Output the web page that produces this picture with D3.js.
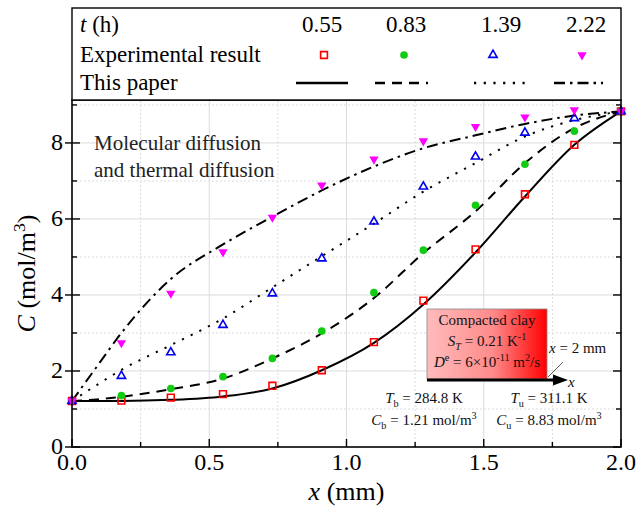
<!DOCTYPE html>
<html>
<head>
<meta charset="utf-8">
<script src="https://cdn.jsdelivr.net/npm/d3@7"></script>
<style>
  body { margin: 0; background: #fff; }
  svg { display: block; }
</style>
</head>
<body>
<div id="chart"></div>
<script>
// experimental sample positions (mm) and measured concentrations (mol/m3)
const xExp = [0, 0.18, 0.36, 0.55, 0.73, 0.91, 1.1, 1.28, 1.47, 1.65, 1.83, 2.0];
const exp055 = [1.21, 1.22, 1.30, 1.39, 1.61, 2.02, 2.76, 3.85, 5.20, 6.65, 7.95, 8.83];
const exp083 = [1.21, 1.35, 1.54, 1.85, 2.33, 3.05, 4.06, 5.18, 6.36, 7.44, 8.31, 8.83];
const exp139 = [1.21, 1.87, 2.49, 3.21, 4.04, 4.96, 5.93, 6.85, 7.64, 8.27, 8.65, 8.83];
const exp222 = [1.21, 2.74, 4.04, 5.13, 6.04, 6.89, 7.57, 8.05, 8.43, 8.68, 8.87, 8.83];

// model curves ("This paper")
const xModel = [0, 0.09, 0.18, 0.36, 0.55, 0.73, 0.91, 1.1, 1.28, 1.47, 1.65, 1.83, 2.0];
const model055 = [1.21, 1.21, 1.21, 1.24, 1.33, 1.54, 2.02, 2.74, 3.75, 5.12, 6.59, 7.95, 8.83];
const model083 = [1.21, 1.25, 1.32, 1.52, 1.80, 2.33, 2.99, 3.92, 5.10, 6.20, 7.47, 8.39, 8.83];
const model139 = [1.21, 1.63, 2.03, 2.68, 3.38, 4.20, 5.02, 5.88, 6.72, 7.47, 8.17, 8.60, 8.83];
const model222 = [1.21, 2.11, 3.00, 4.42, 5.33, 6.06, 6.75, 7.38, 7.86, 8.20, 8.50, 8.72, 8.83];

const times = ["0.55", "0.83", "1.39", "2.22"];
const xTicks = [0, 0.5, 1.0, 1.5, 2.0];
const yTicks = [0, 2, 4, 6, 8];

const width = 639;
const height = 517;
const marginTop = 100;
const marginRight = 18;
const marginBottom = 70;
const marginLeft = 72;
const serif = "'Liberation Serif', 'Times New Roman', serif";

const x = d3.scaleLinear([0, 2], [marginLeft, width - marginRight]);
const y = d3.scaleLinear([0, 9.13], [height - marginBottom, marginTop]);

const series = [
  { t: times[0], exp: exp055, model: model055, shape: "square", color: "#ff0000", fill: "none", dash: null },
  { t: times[1], exp: exp083, model: model083, shape: "circle", color: "#11cc11", fill: "#11cc11", dash: "10,7" },
  { t: times[2], exp: exp139, model: model139, shape: "up", color: "#0000ee", fill: "none", dash: "2.2,7.5" },
  { t: times[3], exp: exp222, model: model222, shape: "down", color: "#ff00ff", fill: "#ff00ff", dash: "11,5,2.5,5" }
];

const svg = d3.select("#chart")
  .append("svg")
  .attr("width", width)
  .attr("height", height)
  .attr("viewBox", [0, 0, width, height])
  .attr("font-family", serif);

// small helper for text with italics / sub / superscripts
function rich(sel, parts, size) {
  let shift = 0;
  parts.forEach(p => {
    const sp = sel.append("tspan").text(p.t);
    let target = 0;
    if (p.sup) target = -0.38 * size;
    if (p.sub) target = 0.25 * size;
    if (target !== shift) { sp.attr("dy", target - shift); shift = target; }
    if (p.sup || p.sub) sp.attr("font-size", size * 0.68);
    if (p.i) sp.attr("font-style", "italic");
  });
  return sel;
}

function symbolPath(shape) {
  if (shape === "square") return d3.symbol(d3.symbolSquare, 46)();
  if (shape === "circle") return d3.symbol(d3.symbolCircle, 46)();
  return d3.symbol(d3.symbolTriangle, shape === "up" ? 30 : 38)();
}

function drawMarker(g, s, cx, cy) {
  g.append("path")
    .attr("d", symbolPath(s.shape))
    .attr("transform", `translate(${cx},${cy})` + (s.shape === "down" ? " rotate(180)" : ""))
    .attr("fill", s.fill)
    .attr("stroke", s.fill === "none" ? s.color : "none")
    .attr("stroke-width", 1.6);
}

// grid
const grid = svg.append("g").attr("stroke", "#dcdcdc").attr("stroke-width", 1);
d3.range(0.25, 2, 0.25).forEach(v => {
  grid.append("line")
    .attr("x1", x(v)).attr("x2", x(v))
    .attr("y1", y(0)).attr("y2", marginTop)
    .attr("stroke-dasharray", Math.abs(v % 0.5) < 1e-9 ? null : "2,2");
});
d3.range(1, 10, 1).forEach(v => {
  grid.append("line")
    .attr("x1", x(0)).attr("x2", x(2))
    .attr("y1", y(v)).attr("y2", y(v))
    .attr("stroke-dasharray", v % 2 === 0 ? null : "2,2");
});

// model curves
const line = d3.line()
  .x((d, i) => x(xModel[i]))
  .y(d => y(d))
  .curve(d3.curveMonotoneX);

svg.append("g")
  .attr("fill", "none")
  .attr("stroke", "#000")
  .attr("stroke-width", 2)
  .selectAll("path")
  .data(series)
  .join("path")
  .attr("d", s => line(s.model))
  .attr("stroke-dasharray", s => s.dash);

// experimental points
const pts = svg.append("g");
series.forEach(s => {
  s.exp.forEach((v, i) => drawMarker(pts, s, x(xExp[i]), y(v)));
});

// axes frame and ticks (ticks pointing inward)
const axes = svg.append("g").attr("stroke", "#000");
svg.append("rect")
  .attr("x", x(0)).attr("y", marginTop)
  .attr("width", x(2) - x(0)).attr("height", y(0) - marginTop)
  .attr("fill", "none").attr("stroke", "#000").attr("stroke-width", 1.6);

d3.range(0, 2.001, 0.25).forEach(v => {
  const major = Math.abs(v % 0.5) < 1e-9;
  axes.append("line")
    .attr("x1", x(v)).attr("x2", x(v))
    .attr("y1", y(0)).attr("y2", y(0) - (major ? 8 : 5))
    .attr("stroke-width", 1.4);
});
d3.range(0, 9.01, 1).forEach(v => {
  const major = v % 2 === 0;
  axes.append("line")
    .attr("x1", x(0) - (major ? 7 : 0)).attr("x2", x(0) + (major ? 8 : 5))
    .attr("y1", y(v)).attr("y2", y(v))
    .attr("stroke-width", 1.4);
  axes.append("line")
    .attr("x1", x(2)).attr("x2", x(2) - (major ? 8 : 5))
    .attr("y1", y(v)).attr("y2", y(v))
    .attr("stroke-width", 1.4);
});

// tick labels
svg.append("g")
  .attr("font-size", 24)
  .attr("text-anchor", "middle")
  .selectAll("text")
  .data(xTicks)
  .join("text")
  .attr("x", d => x(d))
  .attr("y", 470)
  .text(d => d3.format(".1f")(d));

svg.append("g")
  .attr("font-size", 24)
  .attr("text-anchor", "end")
  .selectAll("text")
  .data(yTicks)
  .join("text")
  .attr("x", x(0) - 9)
  .attr("y", d => y(d) + 7)
  .text(d => d);

// axis titles
rich(svg.append("text")
  .attr("x", (x(0) + x(2)) / 2)
  .attr("y", 500)
  .attr("text-anchor", "middle")
  .attr("font-size", 26),
  [{ t: "x", i: true }, { t: " (mm)" }], 26);

rich(svg.append("text")
  .attr("transform", `translate(35,${(y(0) + marginTop) / 2}) rotate(-90)`)
  .attr("text-anchor", "middle")
  .attr("font-size", 26),
  [{ t: "C", i: true }, { t: " (mol/m" }, { t: "3", sup: true }, { t: ")" }], 26);

// legend table on top
const legend = svg.append("g").attr("font-size", 23);
legend.append("rect")
  .attr("x", x(0)).attr("y", 8)
  .attr("width", x(2) - x(0)).attr("height", marginTop - 8)
  .attr("fill", "#fff").attr("stroke", "#000").attr("stroke-width", 1.4);

rich(legend.append("text").attr("x", 80).attr("y", 32), [{ t: "t", i: true }, { t: " (h)" }], 23);
legend.append("text").attr("x", 80).attr("y", 62).text("Experimental result");
legend.append("text").attr("x", 80).attr("y", 90).text("This paper");

const colNum = [322, 406, 501, 586];
const colMark = [324, 404, 493, 582];
const colLine = [[296, 348], [375, 428], [474, 527], [554, 603]];
series.forEach((s, i) => {
  legend.append("text")
    .attr("x", colNum[i]).attr("y", 32)
    .attr("text-anchor", "middle")
    .text(s.t);
  drawMarker(legend, s, colMark[i], 55);
  legend.append("line")
    .attr("x1", colLine[i][0]).attr("x2", colLine[i][1])
    .attr("y1", 83).attr("y2", 83)
    .attr("stroke", "#000").attr("stroke-width", 2.6)
    .attr("stroke-dasharray", s.dash);
});

// annotation in upper left
const note = svg.append("g").attr("font-size", 21).attr("fill", "#222");
note.append("text").attr("x", 94).attr("y", 150).text("Molecular diffusion");
note.append("text").attr("x", 94).attr("y", 177).text("and thermal diffusion");

// inset: compacted clay block
const defs = svg.append("defs");
const grad = defs.append("linearGradient").attr("id", "clay");
grad.append("stop").attr("offset", "0%").attr("stop-color", "#ffbcbc");
grad.append("stop").attr("offset", "55%").attr("stop-color", "#ff8a8a");
grad.append("stop").attr("offset", "100%").attr("stop-color", "#ff0000");

const inset = svg.append("g").attr("font-size", 15).attr("fill", "#111");
inset.append("rect")
  .attr("x", 427).attr("y", 309)
  .attr("width", 120).attr("height", 70)
  .attr("fill", "url(#clay)")
  .attr("stroke", "#888").attr("stroke-width", 0.8);

inset.append("text").attr("x", 487).attr("y", 325).attr("text-anchor", "middle").text("Compacted clay");
rich(inset.append("text").attr("x", 487).attr("y", 346).attr("text-anchor", "middle"),
  [{ t: "S", i: true }, { t: "T", i: true, sub: true }, { t: " = 0.21 K" }, { t: "-1", sup: true }], 15);
rich(inset.append("text").attr("x", 487).attr("y", 367).attr("text-anchor", "middle"),
  [{ t: "D", i: true }, { t: "e", sup: true }, { t: " = 6×10" }, { t: "-11", sup: true }, { t: " m" }, { t: "2", sup: true }, { t: "/s" }], 15);

inset.append("line")
  .attr("x1", 427).attr("x2", 556)
  .attr("y1", 380).attr("y2", 380)
  .attr("stroke", "#000").attr("stroke-width", 3);
inset.append("path")
  .attr("d", "M553,374.5 L568,380 L553,385.5 Z")
  .attr("fill", "#000");
inset.append("text").attr("x", 568).attr("y", 387).attr("font-style", "italic").text("x");
inset.append("line")
  .attr("x1", 548).attr("y1", 377).attr("x2", 563).attr("y2", 362)
  .attr("stroke", "#333").attr("stroke-width", 0.8);
rich(inset.append("text").attr("x", 549).attr("y", 353),
  [{ t: "x", i: true }, { t: " = 2 mm" }], 15);

rich(inset.append("text").attr("x", 424).attr("y", 403).attr("text-anchor", "middle"),
  [{ t: "T", i: true }, { t: "b", sub: true }, { t: " = 284.8 K" }], 15);
rich(inset.append("text").attr("x", 424).attr("y", 425).attr("text-anchor", "middle"),
  [{ t: "C", i: true }, { t: "b", sub: true }, { t: " = 1.21 mol/m" }, { t: "3", sup: true }], 15);
rich(inset.append("text").attr("x", 549).attr("y", 403).attr("text-anchor", "middle"),
  [{ t: "T", i: true }, { t: "u", sub: true }, { t: " = 311.1 K" }], 15);
rich(inset.append("text").attr("x", 549).attr("y", 425).attr("text-anchor", "middle"),
  [{ t: "C", i: true }, { t: "u", sub: true }, { t: " = 8.83 mol/m" }, { t: "3", sup: true }], 15);
</script>
</body>
</html>
